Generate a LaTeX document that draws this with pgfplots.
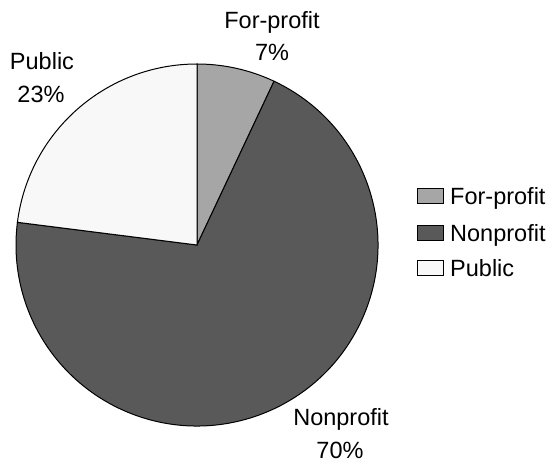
\documentclass[border=0pt]{standalone}
\usepackage{pgfplots}
\pgfplotsset{compat=1.18}
\usepackage{pgfplotstable}
\usepackage{fontspec}
\setmainfont{Liberation Sans}

\definecolor{forprofit}{HTML}{A6A6A6}
\definecolor{nonprofit}{HTML}{595959}
\definecolor{public}{HTML}{F8F8F8}

% share of institutions, percent
\pgfplotstableread{
label      value
For-profit 7
Nonprofit  70
Public     23
}\piedata

\begin{document}
\begin{tikzpicture}[font=\fontsize{23.5}{27}\selectfont]
  \pgfplotstablegetelem{0}{value}\of\piedata \pgfmathsetmacro\va{\pgfplotsretval}
  \pgfplotstablegetelem{1}{value}\of\piedata \pgfmathsetmacro\vb{\pgfplotsretval}
  \pgfplotstablegetelem{2}{value}\of\piedata \pgfmathsetmacro\vc{\pgfplotsretval}
  \pgfmathsetmacro\aA{90}
  \pgfmathsetmacro\aB{\aA-3.6*\va}
  \pgfmathsetmacro\aC{\aB-3.6*\vb}
  \pgfmathsetmacro\aD{\aC-3.6*\vc}
  \def\cx{197}\def\cy{219}\def\r{181pt}
  \begin{axis}[
    hide axis,
    scale only axis,
    width=552pt, height=464pt,
    xmin=0, xmax=552, ymin=0, ymax=464,
    clip=false,
  ]
    \filldraw[fill=forprofit, draw=black, line width=1pt]
      (axis cs:\cx,\cy) -- ++(\aA:\r) arc[start angle=\aA, end angle=\aB, radius=\r] -- cycle;
    \filldraw[fill=nonprofit, draw=black, line width=1pt]
      (axis cs:\cx,\cy) -- ++(\aB:\r) arc[start angle=\aB, end angle=\aC, radius=\r] -- cycle;
    \filldraw[fill=public, draw=black, line width=1pt]
      (axis cs:\cx,\cy) -- ++(\aC:\r) arc[start angle=\aC, end angle=\aD, radius=\r] -- cycle;

    % slice labels
    \node[anchor=base, inner sep=0pt] at (axis cs:272,435) {For-profit};
    \node[anchor=base, inner sep=0pt] at (axis cs:272,403) {7\%};
    \node[anchor=base, inner sep=0pt] at (axis cs:42,394) {Public};
    \node[anchor=base, inner sep=0pt] at (axis cs:41,361) {23\%};
    \node[anchor=base, inner sep=0pt] at (axis cs:341,38) {Nonprofit};
    \node[anchor=base, inner sep=0pt] at (axis cs:340,6) {70\%};

    % legend
    \filldraw[fill=forprofit, draw=black, line width=0.8pt] (axis cs:417,261) rectangle (axis cs:443,276);
    \node[anchor=base west, inner sep=0pt] at (axis cs:450,259) {For-profit};
    \filldraw[fill=nonprofit, draw=black, line width=0.8pt] (axis cs:417,224) rectangle (axis cs:443,239);
    \node[anchor=base west, inner sep=0pt] at (axis cs:450,222) {Nonprofit};
    \filldraw[fill=public, draw=black, line width=0.8pt] (axis cs:417,189) rectangle (axis cs:443,204);
    \node[anchor=base west, inner sep=0pt] at (axis cs:450,187) {Public};
  \end{axis}
  \pgfresetboundingbox
  \path (0,0) rectangle (552pt,464pt);
\end{tikzpicture}
\end{document}
